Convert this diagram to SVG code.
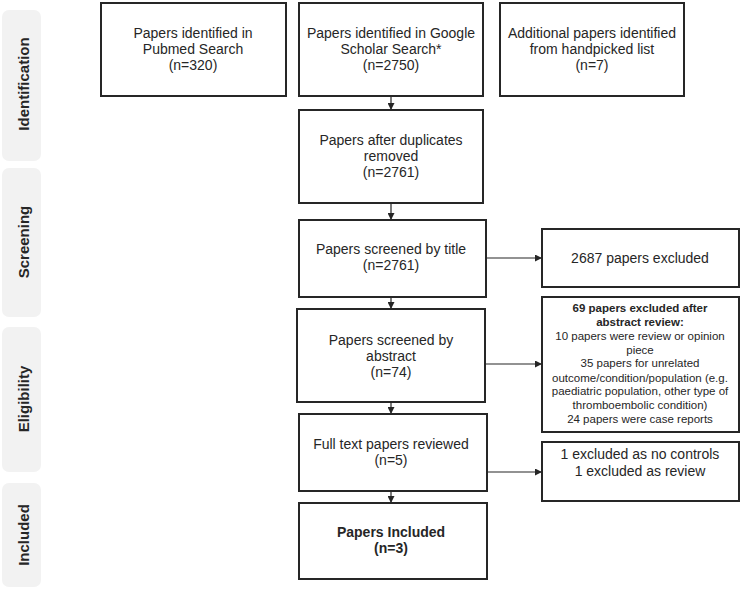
<svg xmlns="http://www.w3.org/2000/svg" width="742" height="590" viewBox="0 0 742 590">
<defs>
<style>
.panel{fill:#f2f2f2;stroke:none}
.side{font-family:"Liberation Sans",Arial,sans-serif;font-size:15px;font-weight:bold;fill:#262626;text-anchor:middle}
.box{fill:#fff;stroke:#262626;stroke-width:2}
.t{font-family:"Liberation Sans",Arial,sans-serif;font-size:14px;fill:#262626;text-anchor:middle}
.s{font-family:"Liberation Sans",Arial,sans-serif;font-size:11.5px;fill:#262626;text-anchor:middle}
.b{font-weight:bold}
.conn{stroke:#262626;stroke-width:1.2;fill:none;marker-end:url(#ah)}
</style>
<marker id="ah" viewBox="0 0 10 10" refX="10" refY="5" markerWidth="7" markerHeight="7" markerUnits="userSpaceOnUse" orient="auto">
<path d="M0,0 L10,5 L0,10 z" fill="#262626"/>
</marker>
</defs>
<rect width="742" height="590" fill="#fff"/>

<g id="side-identification">
<rect class="panel" x="2" y="10" width="39" height="151" rx="7"/>
<text class="side" transform="translate(28.5,84) rotate(-90)">Identification</text>
</g>
<g id="side-screening">
<rect class="panel" x="2" y="168" width="39" height="149" rx="7"/>
<text class="side" transform="translate(28.5,242) rotate(-90)">Screening</text>
</g>
<g id="side-eligibility">
<rect class="panel" x="2" y="327" width="39" height="145" rx="7"/>
<text class="side" transform="translate(28.5,399) rotate(-90)">Eligibility</text>
</g>
<g id="side-included">
<rect class="panel" x="2" y="483" width="39" height="104" rx="7"/>
<text class="side" transform="translate(28.5,535) rotate(-90)">Included</text>
</g>

<g id="connectors">
<line class="conn" x1="391" y1="96" x2="391" y2="110"/>
<line class="conn" x1="391" y1="203" x2="391" y2="220"/>
<line class="conn" x1="391" y1="297" x2="391" y2="309"/>
<line class="conn" x1="391" y1="402" x2="391" y2="414"/>
<line class="conn" x1="391" y1="491" x2="391" y2="503"/>
<line class="conn" x1="486" y1="258" x2="542" y2="258"/>
<line class="conn" x1="485" y1="364" x2="542" y2="364"/>
<line class="conn" x1="487" y1="472" x2="542" y2="472"/>
</g>

<g id="pubmed">
<rect class="box" x="101" y="3" width="185" height="93"/>
<text class="t" x="193" y="38">Papers identified in</text>
<text class="t" x="193" y="54">Pubmed Search</text>
<text class="t" x="193" y="70">(n=320)</text>
</g>
<g id="scholar">
<rect class="box" x="299" y="3" width="184" height="93"/>
<text class="t" x="391" y="38">Papers identified in Google</text>
<text class="t" x="391" y="54">Scholar Search*</text>
<text class="t" x="391" y="70">(n=2750)</text>
</g>
<g id="handpicked">
<rect class="box" x="500" y="3" width="184" height="93"/>
<text class="t" x="592" y="38">Additional papers identified</text>
<text class="t" x="592" y="54">from handpicked list</text>
<text class="t" x="592" y="70">(n=7)</text>
</g>
<g id="duplicates">
<rect class="box" x="299" y="110" width="184" height="93"/>
<text class="t" x="391" y="145">Papers after duplicates</text>
<text class="t" x="391" y="161">removed</text>
<text class="t" x="391" y="177">(n=2761)</text>
</g>
<g id="title">
<rect class="box" x="299" y="220" width="187" height="77"/>
<text class="t" x="391" y="254">Papers screened by title</text>
<text class="t" x="391" y="270">(n=2761)</text>
</g>
<g id="excluded-title">
<rect class="box" x="542" y="229" width="197" height="58"/>
<text class="t" x="640" y="263">2687 papers excluded</text>
</g>
<g id="abstract">
<rect class="box" x="297" y="309" width="188" height="93"/>
<text class="t" x="391" y="345">Papers screened by</text>
<text class="t" x="391" y="361">abstract</text>
<text class="t" x="391" y="377">(n=74)</text>
</g>
<g id="excluded-abstract">
<rect class="box" x="542" y="297" width="197" height="135"/>
<text class="s b" x="640" y="312">69 papers excluded after</text>
<text class="s b" x="640" y="326">abstract review:</text>
<text class="s" x="640" y="340">10 papers were review or opinion</text>
<text class="s" x="640" y="354">piece</text>
<text class="s" x="640" y="367">35 papers for unrelated</text>
<text class="s" x="640" y="382">outcome/condition/population (e.g.</text>
<text class="s" x="640" y="395">paediatric population, other type of</text>
<text class="s" x="640" y="409">thromboembolic condition)</text>
<text class="s" x="640" y="423">24 papers were case reports</text>
</g>
<g id="fulltext">
<rect class="box" x="299" y="414" width="188" height="77"/>
<text class="t" x="391" y="449">Full text papers reviewed</text>
<text class="t" x="391" y="465">(n=5)</text>
</g>
<g id="excluded-fulltext">
<rect class="box" x="542" y="442" width="197" height="59"/>
<text class="t" x="640" y="459">1 excluded as no controls</text>
<text class="t" x="640" y="476">1 excluded as review</text>
</g>
<g id="included">
<rect class="box" x="299" y="503" width="188" height="76"/>
<text class="t b" x="391" y="537">Papers Included</text>
<text class="t b" x="391" y="553">(n=3)</text>
</g>
</svg>
